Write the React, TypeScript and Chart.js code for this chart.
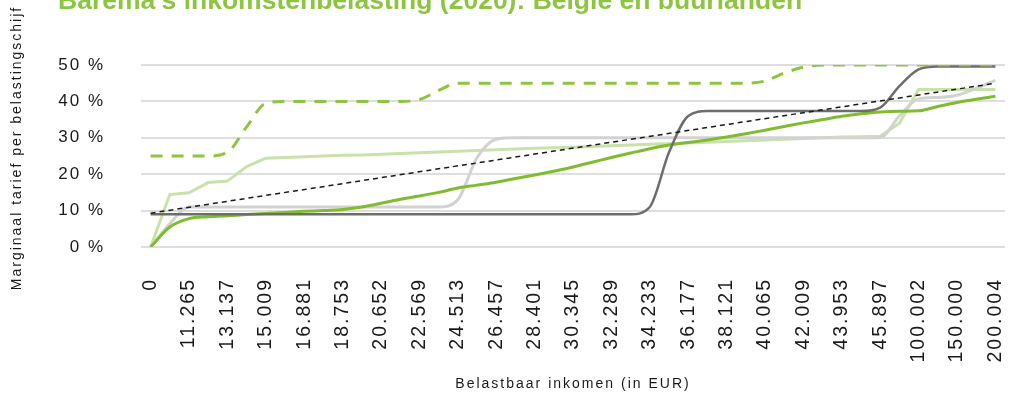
import React, { useEffect, useRef } from 'react';
import { Chart, registerables } from 'chart.js';

Chart.register(...registerables);

const chartTitle = "Barema's inkomstenbelasting (2020): België en buurlanden";
const xAxisTitle = 'Belastbaar inkomen (in EUR)';
const yAxisTitle = 'Marginaal tarief per belastingschijf';

const tickLabels = [
  '0', '11.265', '13.137', '15.009', '16.881', '18.753', '20.652', '22.569',
  '24.513', '26.457', '28.401', '30.345', '32.289', '34.233', '36.177', '38.121',
  '40.065', '42.009', '43.953', '45.897', '100.002', '150.000', '200.004',
];

// 45 categories: every labelled income plus one unlabelled point in between
const belgium = [
  25, 25, 25, 25, 26, 33, 39.5, 40, 40, 40, 40, 40, 40, 40, 40.5, 43, 45,
  45, 45, 45, 45, 45, 45, 45, 45, 45, 45, 45, 45, 45, 45, 45, 45.6, 47.8, 49.4,
  50, 50, 50, 50, 50, 50, 50, 50, 50, 50,
];
const netherlands = [
  9, 9, 9, 9, 9, 9, 9, 9, 9, 9, 9, 9, 9, 9, 9, 9, 9, 9, 9, 9, 9, 9, 9, 9, 9, 9,
  11, 26, 36, 37.35, 37.35, 37.35, 37.35, 37.35, 37.35, 37.35, 37.35, 37.35,
  38.3, 44.2, 48.8, 49.6, 49.6, 49.6, 49.6,
];
const france = [
  0, 6.4, 11, 11, 11, 11, 11, 11, 11, 11, 11, 11, 11, 11, 11, 11, 13, 24.5, 29.6,
  30, 30, 30, 30, 30, 30, 30, 30, 30, 30, 30, 30, 30, 30, 30, 30, 30, 30, 30, 30.1,
  36, 40.7, 41.1, 41.7, 43.6, 45.8,
];
const germany = [
  0, 14.4, 14.9, 17.7, 18.1, 22.1, 24.4, 24.6, 24.8, 25, 25.2, 25.3, 25.5, 25.7,
  25.9, 26.1, 26.3, 26.5, 26.7, 26.9, 27.1, 27.3, 27.4, 27.6, 27.8, 28, 28.2,
  28.4, 28.6, 28.8, 29, 29.2, 29.4, 29.6, 29.8, 30, 30.2, 30.3, 30.4, 34, 43.3,
  43.3, 43.3, 43.3, 43.3,
];
const luxembourg = [
  0, 5.5, 7.8, 8.3, 8.6, 8.9, 9.2, 9.5, 9.8, 10, 10.3, 11, 12, 13.1, 14, 15,
  16.2, 17, 17.8, 18.8, 19.8, 20.8, 22, 23.3, 24.6, 25.8, 27, 28, 28.7, 29.4,
  30.2, 31.1, 32.1, 33.1, 34.1, 35, 35.9, 36.6, 37.1, 37.3, 37.4, 38.6, 39.7,
  40.6, 41.4,
];
const trendStart = 9.3;
const trendEnd = 45.0;

const categories: string[] = [];
tickLabels.forEach((l, i) => {
  categories.push(l);
  if (i < tickLabels.length - 1) categories.push('');
});
const trend = categories.map((_, i) =>
  i === 0 ? trendStart : i === categories.length - 1 ? trendEnd : null
);

const FONT = "'Liberation Sans', Arial, Helvetica, sans-serif";
const TEXT = '#1a1a1a';

const spacingPlugin = {
  id: 'letterSpacing',
  beforeUpdate(chart: any) {
    chart.ctx.letterSpacing = '2px';
  },
  beforeDraw(chart: any) {
    chart.ctx.letterSpacing = '2px';
  },
};

const yTitlePlugin = {
  id: 'yTitle',
  afterDraw(chart: any) {
    const ctx = chart.ctx;
    ctx.save();
    ctx.letterSpacing = '2px';
    ctx.font = `14px ${FONT}`;
    ctx.fillStyle = TEXT;
    ctx.translate(17.5, 148);
    ctx.rotate(-Math.PI / 2);
    ctx.textAlign = 'center';
    ctx.textBaseline = 'middle';
    ctx.fillText(yAxisTitle, 0, 0);
    ctx.restore();
  },
};

export default function App() {
  const ref = useRef<HTMLCanvasElement | null>(null);
  useEffect(() => {
    if (!ref.current) return;
    const chart = new Chart(ref.current, {
      type: 'line',
      data: {
        labels: categories,
        datasets: [
          {
            label: 'Trend',
            data: trend,
            spanGaps: true,
            borderColor: TEXT,
            borderWidth: 1.5,
            borderDash: [5, 4],
            tension: 0,
          },
          {
            label: 'België',
            data: belgium,
            borderColor: '#8cc63f',
            borderWidth: 3,
            borderDash: [12, 9],
            cubicInterpolationMode: 'monotone',
          },
          {
            label: 'Nederland',
            data: netherlands,
            borderColor: '#6d6d6d',
            borderWidth: 2.5,
            cubicInterpolationMode: 'monotone',
          },
          {
            label: 'Luxemburg',
            data: luxembourg,
            borderColor: '#7fbc2f',
            borderWidth: 3,
            cubicInterpolationMode: 'monotone',
          },
          {
            label: 'Frankrijk',
            data: france,
            borderColor: '#d2d2d2',
            borderWidth: 3,
            cubicInterpolationMode: 'monotone',
          },
          {
            label: 'Duitsland',
            data: germany,
            borderColor: '#c9e2a9',
            borderWidth: 3,
            tension: 0,
          },
        ] as any,
      },
      options: {
        responsive: false,
        animation: false,
        layout: { padding: { top: 65, right: 15, bottom: 0, left: 0 } },
        elements: { point: { radius: 0 } },
        plugins: {
          legend: { display: false },
          tooltip: { enabled: false },
          title: { display: false },
        },
        scales: {
          x: {
            type: 'category',
            offset: true,
            grid: { display: false, drawTicks: false },
            border: { display: false },
            ticks: {
              autoSkip: false,
              minRotation: 90,
              maxRotation: 90,
              padding: 31,
              color: TEXT,
              font: { family: FONT, size: 19.5 },
            },
            title: {
              display: true,
              text: xAxisTitle,
              color: TEXT,
              font: { family: FONT, size: 14 },
              padding: { top: 0, bottom: 7 },
            },
            afterFit: (s: any) => {
              s.height = 153;
              s.paddingLeft = 0;
              s.paddingRight = 0;
            },
          },
          y: {
            min: 0,
            max: 50,
            grid: { color: '#dedede', lineWidth: 2, drawTicks: false },
            border: { display: false },
            ticks: {
              stepSize: 10,
              padding: 36,
              color: TEXT,
              font: { family: FONT, size: 17 },
              callback: (v: any) => v + ' %',
            },
            title: { display: false },
            afterFit: (s: any) => {
              s.width = 141;
            },
          },
        },
      } as any,
      plugins: [spacingPlugin, yTitlePlugin],
    });
    return () => chart.destroy();
  }, []);

  return (
    <div style={{ position: 'fixed', left: 0, top: 0, width: 1020, height: 400, background: '#fff', overflow: 'hidden' }}>
      <canvas ref={ref} width={1020} height={400} style={{ position: 'absolute', left: 0, top: 0 }} />
      <div
        style={{
          position: 'absolute',
          left: 58,
          top: -15,
          whiteSpace: 'nowrap',
          fontFamily: FONT,
          fontWeight: 'bold',
          fontSize: 26.5,
          color: '#8cc63f',
          zIndex: 2,
        }}
      >
        {chartTitle}
      </div>
    </div>
  );
}
